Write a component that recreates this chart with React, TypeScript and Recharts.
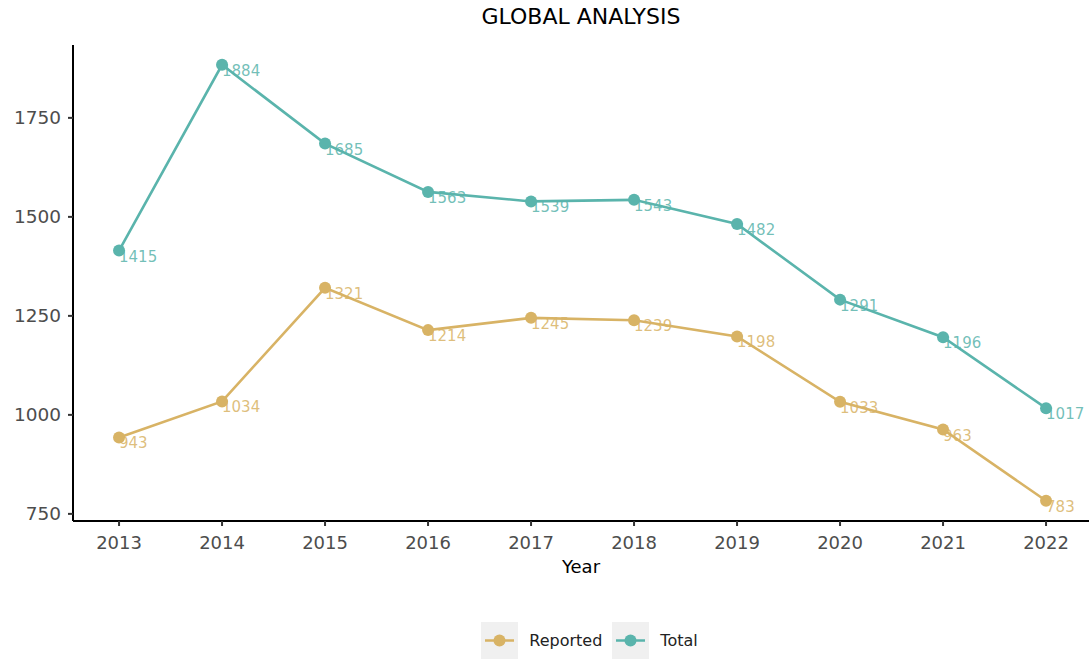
import React from 'react';
import { LineChart, Line, XAxis, YAxis, LabelList } from 'recharts';

const years = [2013, 2014, 2015, 2016, 2017, 2018, 2019, 2020, 2021, 2022];
const reported = [943, 1034, 1321, 1214, 1245, 1239, 1198, 1033, 963, 783];
const total = [1415, 1884, 1685, 1563, 1539, 1543, 1482, 1291, 1196, 1017];
const yTicks = [750, 1000, 1250, 1500, 1750];

const GOLD = '#D8B365';
const TEAL = '#5AB4AC';
const FONT = '"DejaVu Sans", sans-serif';

const data = years.map((year, i) => ({ year, reported: reported[i], total: total[i] }));

const makeLabel = (color: string) => (props: any) => {
    const { x, y, value } = props;
    return (
        <text x={x} y={y + 11} fill={color} fillOpacity={0.85} fontSize={15} fontFamily={FONT} textAnchor="start">
            {value}
        </text>
    );
};

const LegendKey: React.FC<{ color: string; label: string }> = ({ color, label }) => (
    <div style={{ display: 'flex', alignItems: 'center', marginRight: 10 }}>
        <svg width={37} height={37} style={{ background: '#F0F0F0' }}>
            <line x1={4} y1={18.5} x2={33} y2={18.5} stroke={color} strokeWidth={2.5} />
            <circle cx={18.5} cy={18.5} r={6} fill={color} />
        </svg>
        <span style={{ marginLeft: 11, fontSize: 16, color: '#222' }}>{label}</span>
    </div>
);

export default function App() {
    return (
        <div style={{ position: 'absolute', left: 0, top: 0, width: 1089, height: 663, background: '#fff', fontFamily: FONT }}>
            <div style={{ position: 'absolute', top: 4, left: 73, width: 1016, textAlign: 'center', fontSize: 22, color: '#000' }}>
                GLOBAL ANALYSIS
            </div>
            <LineChart width={1089} height={663} data={data} margin={{ top: 45, right: 0, bottom: 92, left: 0 }}>
                <XAxis
                    dataKey="year"
                    type="number"
                    domain={[2012.553, 2022.417]}
                    ticks={years}
                    allowDataOverflow
                    height={50}
                    axisLine={{ stroke: '#000', strokeWidth: 2 }}
                    tickLine={{ stroke: '#333', strokeWidth: 2 }}
                    tickSize={5}
                    tickMargin={10}
                    tick={{ fill: '#4d4d4d', fontSize: 18, fontFamily: FONT }}
                />
                <YAxis
                    type="number"
                    domain={[732, 1934]}
                    ticks={yTicks}
                    allowDataOverflow
                    width={73}
                    axisLine={{ stroke: '#000', strokeWidth: 2 }}
                    tickLine={{ stroke: '#333', strokeWidth: 2 }}
                    tickSize={5}
                    tickMargin={7}
                    tick={{ fill: '#4d4d4d', fontSize: 18.5, fontFamily: FONT }}
                />
                <Line
                    dataKey="reported"
                    stroke={GOLD}
                    strokeWidth={2.6}
                    dot={{ r: 6, fill: GOLD, stroke: 'none' }}
                    activeDot={false}
                    isAnimationActive={false}
                >
                    <LabelList dataKey="reported" content={makeLabel(GOLD)} />
                </Line>
                <Line
                    dataKey="total"
                    stroke={TEAL}
                    strokeWidth={2.6}
                    dot={{ r: 6, fill: TEAL, stroke: 'none' }}
                    activeDot={false}
                    isAnimationActive={false}
                >
                    <LabelList dataKey="total" content={makeLabel(TEAL)} />
                </Line>
            </LineChart>
            <div style={{ position: 'absolute', top: 556, left: 73, width: 1016, textAlign: 'center', fontSize: 18, color: '#000' }}>
                Year
            </div>
            <div style={{ position: 'absolute', top: 622, left: 0, width: 1089, display: 'flex', justifyContent: 'center', paddingLeft: 100, boxSizing: 'border-box' }}>
                <LegendKey color={GOLD} label="Reported" />
                <LegendKey color={TEAL} label="Total" />
            </div>
        </div>
    );
}
